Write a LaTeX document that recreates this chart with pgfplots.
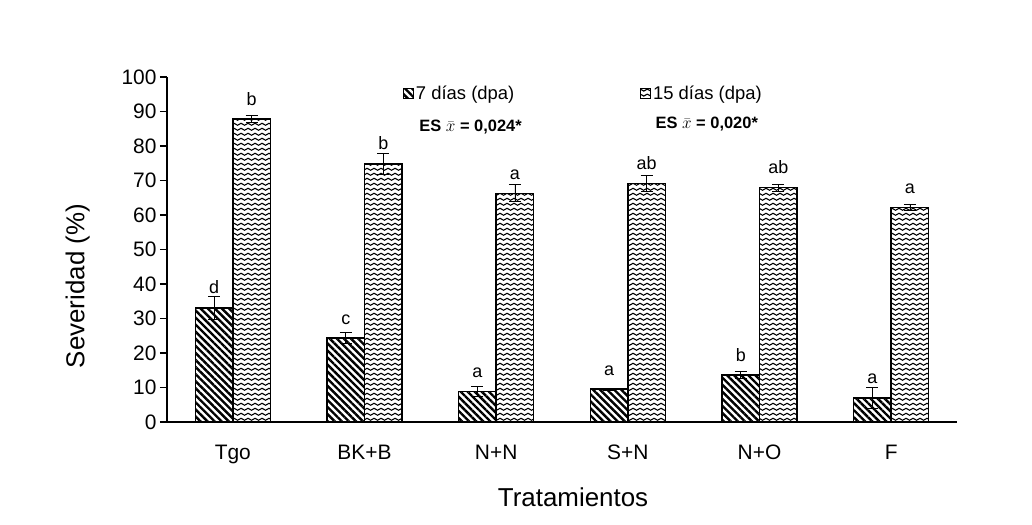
\documentclass[border=0pt]{standalone}
\usepackage{fontspec}
\setmainfont{Liberation Sans}
\usepackage{pgfplots}
\usepackage{pgfplotstable}
\pgfplotsset{compat=1.18}
\usetikzlibrary{patterns.meta}

% horizontal zig-zag hatching for the 15-day bars
\pgfdeclarepattern{
  name=zigzag,
  type=uncolored,
  bottom left={\pgfpoint{0bp}{0bp}},
  top right={\pgfpoint{7bp}{4.5bp}},
  tile size={\pgfpoint{7bp}{4.5bp}},
  code={
    \pgfsetlinewidth{1.2bp}
    \pgfpathmoveto{\pgfpoint{-1bp}{0.6bp}}
    \pgfpathlineto{\pgfpoint{3.5bp}{3.0bp}}
    \pgfpathlineto{\pgfpoint{8bp}{0.6bp}}
    \pgfusepath{stroke}
  }
}

\pgfplotstableread{
x y7   e7  l7 y15  e15 l15
1 33.1 3.3 d  87.8 1.0 b
2 24.3 1.6 c  74.8 3.0 b
3 8.8  1.4 a  66.3 2.5 a
4 9.5  0.3 a  69.2 2.3 ab
5 13.6 1.0 b  67.9 1.0 ab
6 7.0  3.0 a  62.2 1.0 a
}\sevdata

\newcommand{\esx}[1]{ES {\fontsize{19}{20}\selectfont$\bar{x}$} = #1*}

\begin{document}
\begin{tikzpicture}
\useasboundingbox (0,0) rectangle (1032bp,525bp);
\begin{axis}[
  at={(167bp,103bp)}, anchor=south west,
  scale only axis, width=790bp, height=345bp,
  xmin=0.5, xmax=6.5, ymin=0, ymax=100,
  axis x line*=bottom, axis y line*=left,
  axis line style={line width=1.3bp, -},
  xtick={1,...,6},
  xticklabels={Tgo,BK+B,N+N,S+N,N+O,F},
  minor xtick={0.5,1.5,...,6.5},
  ytick={0,10,...,100},
  tick align=outside,
  major tick length=7bp, minor tick length=7bp,
  xtick style={draw=none},
  minor x tick style={line width=1.3bp, black},
  ytick style={line width=1.3bp, black},
  /pgf/number format/assume math mode=true,
  ticklabel style={font=\fontsize{21}{24}\selectfont},
  xticklabel style={yshift=-12bp, text height=15bp, text depth=0bp},
  ylabel={Severidad (\%)},
  xlabel={Tratamientos},
  label style={font=\fontsize{26}{30}\selectfont},
  ylabel style={at={(axis description cs:-0.113,0.394)}, anchor=center},
  xlabel style={at={(axis description cs:0.514,-0.217)}, anchor=center},
  legend style={draw=none, fill=none, inner sep=0pt,
    at={(axis description cs:0.2987,0.9536)}, anchor=west,
    font=\fontsize{18.5}{20}\selectfont,
    /tikz/every even column/.append style={column sep=124bp}},
  legend columns=2,
  legend image code/.code={\draw[#1, line width=0.8bp] (0bp,-5bp) rectangle (10bp,5bp);},
  every node near coord/.append style={font=\fontsize{18}{20}\selectfont, anchor=base, yshift=14bp},
]
\addplot[ybar, bar width=0.285, bar shift=0, draw=black, line width=1.5bp,
  pattern={Lines[angle=-45, distance=5bp, line width=2.4bp]},
  error bars/.cd, y dir=both, y explicit,
  error bar style={line width=0.8bp, black},
  error mark options={rotate=90, mark size=6bp, line width=0.8bp, black}]
  table[x expr=\thisrow{x}-0.1425, y=y7, y error=e7] {\sevdata};
\addlegendentry{7 días (dpa)}
\addplot[ybar, bar width=0.285, bar shift=0, draw=black, line width=1.5bp,
  pattern=zigzag,
  error bars/.cd, y dir=both, y explicit,
  error bar style={line width=0.8bp, black},
  error mark options={rotate=90, mark size=6bp, line width=0.8bp, black}]
  table[x expr=\thisrow{x}+0.1425, y=y15, y error=e15] {\sevdata};
\addlegendentry{15 días (dpa)}
% significance letters above each bar
\addplot[draw=none, mark=none, forget plot, nodes near coords, point meta=explicit symbolic]
  table[x expr=\thisrow{x}-0.1425, y=y7, meta=l7] {\sevdata};
\addplot[draw=none, mark=none, forget plot, nodes near coords, point meta=explicit symbolic]
  table[x expr=\thisrow{x}+0.1425, y=y15, meta=l15] {\sevdata};
\node[anchor=west, font=\fontsize{16.5}{19}\selectfont\bfseries] at (axis description cs:0.315,0.855) {\esx{0,024}};
\node[anchor=west, font=\fontsize{16.5}{19}\selectfont\bfseries] at (axis description cs:0.614,0.864) {\esx{0,020}};
\end{axis}
\end{tikzpicture}
\end{document}
